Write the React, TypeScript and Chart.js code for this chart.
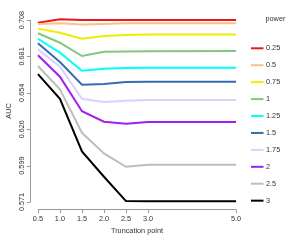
import React, { useEffect, useRef } from "react";
import { Chart, registerables } from "chart.js";

Chart.register(...registerables);

const truncationPoints = [0.5, 1.0, 1.5, 2.0, 2.5, 3.0, 5.0];
const xTickValues = [0.5, 1.0, 1.5, 2.0, 2.5, 3.0, 5.0];
const xTickLabels = ["0.5", "1.0", "1.5", "2.0", "2.5", "3.0", "5.0"];
const yTickValues = [0.571, 0.5984, 0.6258, 0.6532, 0.6806, 0.708];
const yTickLabels = ["0.571", "0.599", "0.626", "0.654", "0.681", "0.708"];

const powers = ["0.25", "0.5", "0.75", "1", "1.25", "1.5", "1.75", "2", "2.5", "3"];
const colors = ["#E41A1C", "#FDC086", "#EEEE00", "#7FC97F", "#00FFFF", "#386CB0", "#DCD0FF", "#A020F0", "#BEBEBE", "#000000"];

const auc_0_25 = [0.706, 0.7085, 0.708, 0.708, 0.708, 0.708, 0.708];
const auc_0_5 = [0.705, 0.7055, 0.7047, 0.705, 0.7055, 0.7055, 0.7055];
const auc_0_75 = [0.7015, 0.6984, 0.6939, 0.696, 0.6967, 0.697, 0.697];
const auc_1 = [0.698, 0.6909, 0.6809, 0.6841, 0.6843, 0.6845, 0.6847];
const auc_1_25 = [0.6939, 0.6834, 0.6698, 0.6713, 0.6718, 0.672, 0.6721];
const auc_1_5 = [0.6905, 0.6764, 0.6593, 0.6598, 0.6614, 0.6616, 0.6616];
const auc_1_75 = [0.6859, 0.6728, 0.6487, 0.6463, 0.6473, 0.6477, 0.6478];
const auc_2 = [0.6814, 0.6653, 0.6393, 0.6314, 0.6299, 0.6312, 0.6312];
const auc_2_5 = [0.6734, 0.6558, 0.6231, 0.6076, 0.5975, 0.599, 0.599];
const auc_3 = [0.6673, 0.6487, 0.6091, 0.59, 0.5717, 0.5715, 0.5715];

const series = [auc_0_25, auc_0_5, auc_0_75, auc_1, auc_1_25, auc_1_5, auc_1_75, auc_2, auc_2_5, auc_3];

const FONT = '7.3px "Liberation Sans", Arial, sans-serif';
const TEXT = "#333333";
const AXIS = "#999999";

const axesPlugin = {
  id: "rAxes",
  afterDraw(chart: any) {
    const ctx = chart.ctx;
    const xs = chart.scales.x;
    const ys = chart.scales.y;
    const area = chart.chartArea;
    ctx.save();
    ctx.strokeStyle = AXIS;
    ctx.lineWidth = 1;
    ctx.font = FONT;
    ctx.fillStyle = TEXT;

    // x axis
    const xAxisY = Math.round(area.bottom) + 0.5;
    const x0 = xs.getPixelForValue(xTickValues[0]);
    const x1 = xs.getPixelForValue(xTickValues[xTickValues.length - 1]);
    ctx.beginPath();
    ctx.moveTo(x0, xAxisY);
    ctx.lineTo(x1, xAxisY);
    xTickValues.forEach((v) => {
      const px = Math.round(xs.getPixelForValue(v)) + 0.5;
      ctx.moveTo(px, xAxisY);
      ctx.lineTo(px, xAxisY + 3.5);
    });
    ctx.stroke();
    ctx.textAlign = "center";
    ctx.textBaseline = "middle";
    xTickValues.forEach((v, i) => {
      ctx.fillText(xTickLabels[i], xs.getPixelForValue(v), xAxisY + 9);
    });
    ctx.fillText("Truncation point", (area.left + area.right) / 2, xAxisY + 21);

    // y axis
    const yAxisX = Math.round(area.left) + 0.5;
    const y0 = ys.getPixelForValue(yTickValues[0]);
    const y1 = ys.getPixelForValue(yTickValues[yTickValues.length - 1]);
    ctx.beginPath();
    ctx.moveTo(yAxisX, y0);
    ctx.lineTo(yAxisX, y1);
    yTickValues.forEach((v) => {
      const py = Math.round(ys.getPixelForValue(v)) + 0.5;
      ctx.moveTo(yAxisX, py);
      ctx.lineTo(yAxisX - 3.5, py);
    });
    ctx.stroke();
    yTickValues.forEach((v, i) => {
      ctx.save();
      ctx.translate(yAxisX - 9, ys.getPixelForValue(v));
      ctx.rotate(-Math.PI / 2);
      ctx.fillText(yTickLabels[i], 0, 0);
      ctx.restore();
    });
    ctx.save();
    ctx.translate(8.5, (area.top + area.bottom) / 2);
    ctx.rotate(-Math.PI / 2);
    ctx.fillText("AUC", 0, 0);
    ctx.restore();

    // legend
    ctx.textAlign = "left";
    ctx.fillText("power", 265.5, 19);
    powers.forEach((p, i) => {
      const ly = 48.3 + i * 16.93;
      ctx.strokeStyle = colors[i];
      ctx.lineWidth = 2;
      ctx.beginPath();
      ctx.moveTo(251, ly);
      ctx.lineTo(263.5, ly);
      ctx.stroke();
      ctx.fillText(p, 266, ly);
    });
    ctx.restore();
  },
};

export default function App() {
  const ref = useRef<HTMLCanvasElement | null>(null);
  useEffect(() => {
    if (!ref.current) return;
    const chart = new Chart(ref.current, {
      type: "line",
      data: {
        datasets: series.map((vals, i) => ({
          label: powers[i],
          data: truncationPoints.map((x, j) => ({ x, y: vals[j] })),
          borderColor: colors[i],
          backgroundColor: colors[i],
          borderWidth: 2,
          pointRadius: 0,
          tension: 0,
          fill: false,
          order: -i,
        })),
      },
      options: {
        animation: false,
        responsive: false,
        maintainAspectRatio: false,
        devicePixelRatio: 1,
        layout: { padding: { left: 30, right: 56, top: 12.7, bottom: 30.7 } },
        plugins: { legend: { display: false }, tooltip: { enabled: false } },
        scales: {
          x: { type: "linear", min: 0.32, max: 5.18, display: false },
          y: { type: "linear", min: 0.5655, max: 0.7135, display: false },
        },
      },
      plugins: [axesPlugin],
    });
    return () => chart.destroy();
  }, []);
  return (
    <div style={{ position: "fixed", left: 0, top: 0, width: 300, height: 240, background: "#fff" }}>
      <canvas ref={ref} width={300} height={240} style={{ width: 300, height: 240 }} />
    </div>
  );
}
